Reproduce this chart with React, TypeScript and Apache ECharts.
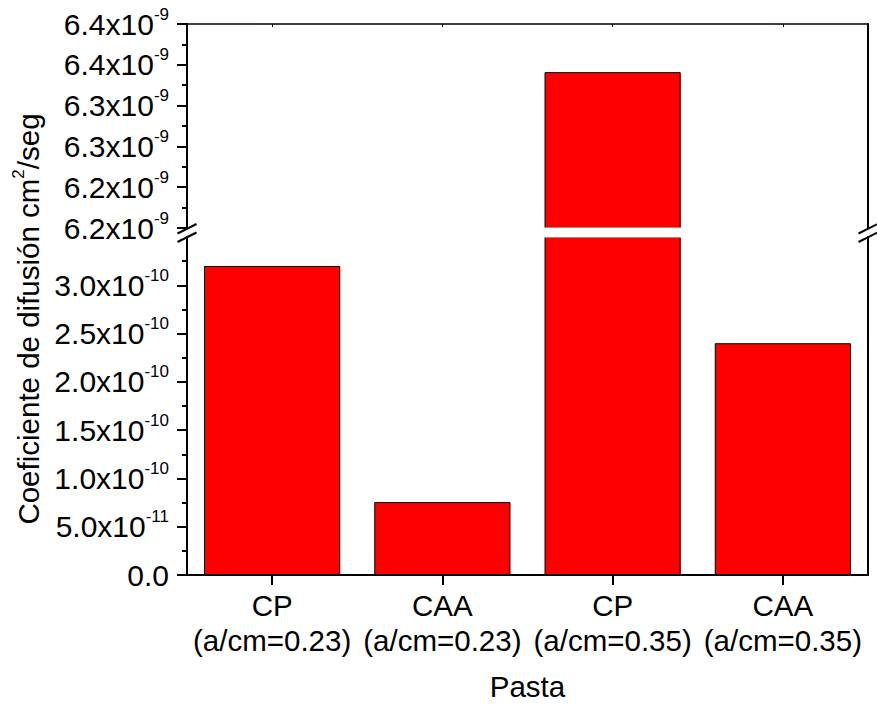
import React, { useEffect, useRef } from 'react';
import * as echarts from 'echarts';

const categories = ['CP\n(a/cm=0.23)', 'CAA\n(a/cm=0.23)', 'CP\n(a/cm=0.35)', 'CAA\n(a/cm=0.35)'];
const coefficients = [3.2e-10, 7.55e-11, 6.341e-9, 2.4e-10];
const lowerAxisRange = [0, 3.5]; // in units of 1e-10
const lowerAxisStep = 0.5;
const lowerTickValues = [0, 0.5, 1.0, 1.5, 2.0, 2.5, 3.0];
const upperAxisRange = [6.15, 6.4]; // in units of 1e-9
const upperAxisStep = 0.05;

const FONT = "'Liberation Sans', Arial, Helvetica, sans-serif";

export default function App() {
  const ref = useRef<HTMLDivElement>(null);
  useEffect(() => {
    if (!ref.current) return;
    const chart = echarts.init(ref.current, undefined, { renderer: 'svg' });

    const lowerData = coefficients.map((v) => v / 1e-10);
    const upperData = coefficients.map((v) => (v / 1e-9 >= upperAxisRange[0] ? v / 1e-9 : '-'));

    const richLabel = {
      m: { fontSize: 30, fontFamily: FONT, color: '#000' },
      s: { fontSize: 17, fontFamily: FONT, color: '#000', padding: [0, 0, 20, 0] },
    };

    const leftAxisCommon = {
      type: 'value' as const,
      position: 'left' as const,
      axisLine: { show: true, lineStyle: { color: '#000', width: 2 } },
      axisTick: { show: true, inside: false, length: 10, lineStyle: { color: '#000', width: 2 } },
      minorTick: { show: true, splitNumber: 2, length: 5, lineStyle: { color: '#000', width: 2 } },
      splitLine: { show: false },
      minorSplitLine: { show: false },
    };
    const rightAxisCommon = {
      type: 'value' as const,
      position: 'right' as const,
      axisLine: { show: true, lineStyle: { color: '#000', width: 2 } },
      axisTick: { show: false },
      axisLabel: { show: false },
      splitLine: { show: false },
    };

    const barStyle = { color: '#ff0000', borderColor: '#000', borderWidth: 1 };

    chart.setOption({
      animation: false,
      backgroundColor: '#fff',
      grid: [
        { left: 187, right: 9, top: 24, height: 204 },
        { left: 187, right: 9, top: 237, height: 338 },
      ],
      xAxis: [
        {
          type: 'category',
          gridIndex: 0,
          position: 'top',
          data: categories,
          axisLine: { show: true, lineStyle: { color: '#000', width: 1.5 } },
          axisTick: { show: true, inside: true, length: 3, alignWithLabel: true, lineStyle: { color: '#000', width: 1 } },
          axisLabel: { show: false },
        },
        {
          type: 'category',
          gridIndex: 1,
          position: 'bottom',
          data: categories,
          name: 'Pasta',
          nameLocation: 'middle',
          nameGap: 96,
          nameTextStyle: { fontSize: 29.5, fontFamily: FONT, color: '#000' },
          axisLine: { show: true, lineStyle: { color: '#000', width: 2 } },
          axisTick: { show: true, inside: false, length: 10, alignWithLabel: true, lineStyle: { color: '#000', width: 2 } },
          axisLabel: { fontSize: 29.5, fontFamily: FONT, color: '#000', lineHeight: 35, margin: 13, interval: 0 },
        },
      ],
      yAxis: [
        {
          ...leftAxisCommon,
          gridIndex: 0,
          min: upperAxisRange[0],
          max: upperAxisRange[1],
          interval: upperAxisStep,
          axisLabel: {
            margin: 18,
            formatter: (v: number) => `{m|${(Math.round(v * 10 + 1e-6) / 10).toFixed(1)}x10}{s|-9}`,
            rich: richLabel,
          },
        },
        { ...rightAxisCommon, gridIndex: 0, min: upperAxisRange[0], max: upperAxisRange[1], interval: upperAxisStep },
        {
          ...leftAxisCommon,
          gridIndex: 1,
          min: lowerAxisRange[0],
          max: lowerAxisRange[1],
          interval: lowerAxisStep,
          axisTick: { ...leftAxisCommon.axisTick, customValues: lowerTickValues },
          axisLabel: {
            margin: 18,
            customValues: lowerTickValues,
            formatter: (v: number) => {
              if (Math.abs(v) < 1e-9) return '{m|0.0}';
              if (v < 1) return `{m|${(v * 10).toFixed(1)}x10}{s|-11}`;
              return `{m|${v.toFixed(1)}x10}{s|-10}`;
            },
            rich: richLabel,
          },
        },
        { ...rightAxisCommon, gridIndex: 1, min: lowerAxisRange[0], max: lowerAxisRange[1], interval: lowerAxisStep },
      ],
      series: [
        {
          type: 'bar',
          xAxisIndex: 0,
          yAxisIndex: 0,
          data: upperData,
          barWidth: '80%',
          clip: true,
          itemStyle: barStyle,
        },
        {
          type: 'bar',
          xAxisIndex: 1,
          yAxisIndex: 2,
          data: lowerData,
          barWidth: '80%',
          clip: true,
          itemStyle: barStyle,
        },
      ],
      graphic: [
        { type: 'rect', z: 100, shape: { x: 530, y: 227.4, width: 170, height: 10.2 }, style: { fill: '#fff' } },
        { type: 'line', z: 101, shape: { x1: 177.5, y1: 233.5, x2: 196.5, y2: 224 }, style: { stroke: '#000', lineWidth: 2 } },
        { type: 'line', z: 101, shape: { x1: 177.5, y1: 242, x2: 196.5, y2: 232.5 }, style: { stroke: '#000', lineWidth: 2 } },
        { type: 'line', z: 101, shape: { x1: 858.5, y1: 233.5, x2: 877.5, y2: 224 }, style: { stroke: '#000', lineWidth: 2 } },
        { type: 'line', z: 101, shape: { x1: 858.5, y1: 242, x2: 877.5, y2: 232.5 }, style: { stroke: '#000', lineWidth: 2 } },
        {
          type: 'text',
          z: 101,
          x: 28,
          y: 319,
          rotation: Math.PI / 2,
          style: {
            text: '{a|Coeficiente de difusión cm}{b|2}{a|/seg}',
            align: 'center',
            verticalAlign: 'middle',
            rich: {
              a: { fontSize: 29.5, fontFamily: FONT, fill: '#000' },
              b: { fontSize: 17, fontFamily: FONT, fill: '#000', padding: [0, 0, 20, 0] },
            },
          },
        },
      ],
    });
    return () => chart.dispose();
  }, []);
  return <div ref={ref} style={{ position: 'absolute', left: 0, top: 0, width: 877, height: 706 }} />;
}
